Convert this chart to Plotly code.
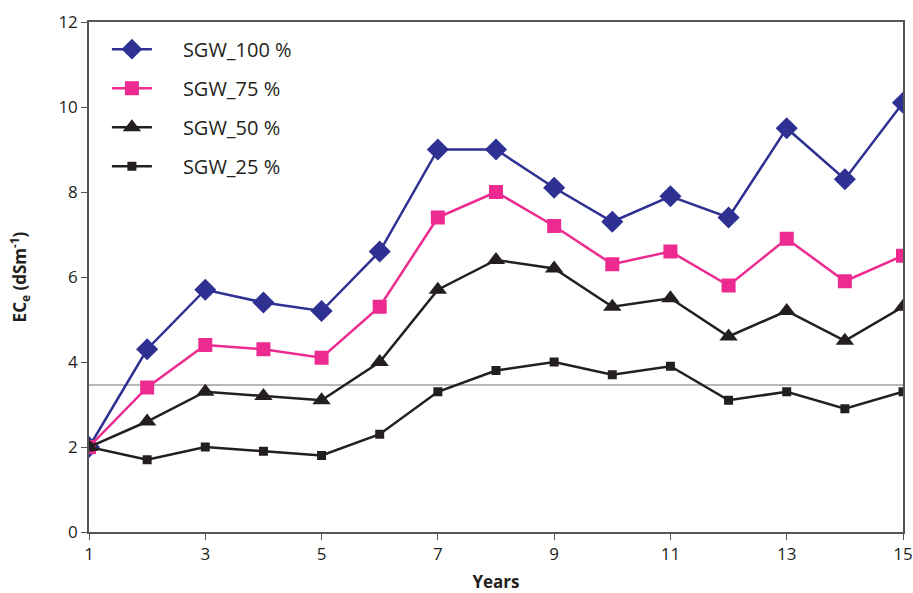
import plotly.graph_objects as go

years = list(range(1, 16))
sgw_100 = [2.0, 4.3, 5.7, 5.4, 5.2, 6.6, 9.0, 9.0, 8.1, 7.3, 7.9, 7.4, 9.5, 8.3, 10.1]
sgw_75 = [2.0, 3.4, 4.4, 4.3, 4.1, 5.3, 7.4, 8.0, 7.2, 6.3, 6.6, 5.8, 6.9, 5.9, 6.5]
sgw_50 = [2.0, 2.6, 3.3, 3.2, 3.1, 4.0, 5.7, 6.4, 6.2, 5.3, 5.5, 4.6, 5.2, 4.5, 5.3]
sgw_25 = [2.0, 1.7, 2.0, 1.9, 1.8, 2.3, 3.3, 3.8, 4.0, 3.7, 3.9, 3.1, 3.3, 2.9, 3.3]
threshold = 3.46

series = [
    ("SGW_100 %", sgw_100, "#2E3192", "diamond", 17),
    ("SGW_75 %", sgw_75, "#EC2A90", "square", 14),
    ("SGW_50 %", sgw_50, "#231F20", "triangle-up", 16),
    ("SGW_25 %", sgw_25, "#231F20", "square", 9),
]

fig = go.Figure()
for i, (name, vals, color, sym, size) in enumerate(series):
    fig.add_trace(go.Scatter(
        x=years, y=vals, name="\u00a0\u00a0\u00a0\u00a0\u00a0" + name, mode="lines+markers",
        line=dict(color=color, width=2.5),
        marker=dict(symbol=sym, size=size, color=color),
        legendgroup=str(i),
    ))

fig.add_shape(type="line", xref="paper", x0=0, x1=1, yref="y", y0=threshold, y1=threshold,
              line=dict(color="#A0A0A0", width=1.5), layer="below")

tickfont = dict(family="Liberation Sans Narrow, Open Sans, sans-serif", size=17, color="#231F20")
fig.update_layout(
    width=913, height=593,
    margin=dict(l=89, r=10, t=22, b=61, autoexpand=False),
    plot_bgcolor="white", paper_bgcolor="white",
    font=dict(family="Open Sans, Liberation Sans, sans-serif", size=16, color="#231F20"),
    showlegend=True,
    legend=dict(x=0.022, y=0.985, xanchor="left", yanchor="top", bgcolor="rgba(0,0,0,0)",
                tracegroupgap=10, font=dict(size=20, color="#231F20"), itemwidth=40),
    xaxis=dict(range=[1, 15], tickvals=[1, 3, 5, 7, 9, 11, 13, 15], showgrid=False,
               showline=True, linecolor="#555555", linewidth=1.5, mirror=True, automargin=False,
               ticks="outside", ticklen=6, tickcolor="#555555", zeroline=False, tickfont=tickfont,
               title=dict(text="<b>Years</b>", standoff=12, font=dict(size=17))),
    yaxis=dict(range=[0, 12], tickvals=[0, 2, 4, 6, 8, 10, 12], showgrid=False,
               showline=True, linecolor="#555555", linewidth=1.5, mirror=True, automargin=False,
               ticks="outside", ticklen=6, tickcolor="#555555", zeroline=False, tickfont=tickfont,
               title=dict(text="<b>EC<sub>e</sub> (dSm<sup>-1</sup>)</b>", standoff=27, font=dict(size=17))),
)

fig.write_html("out.html",
               config={"displayModeBar": False},
               post_script="document.body.style.margin='0';document.body.style.overflow='hidden';")
